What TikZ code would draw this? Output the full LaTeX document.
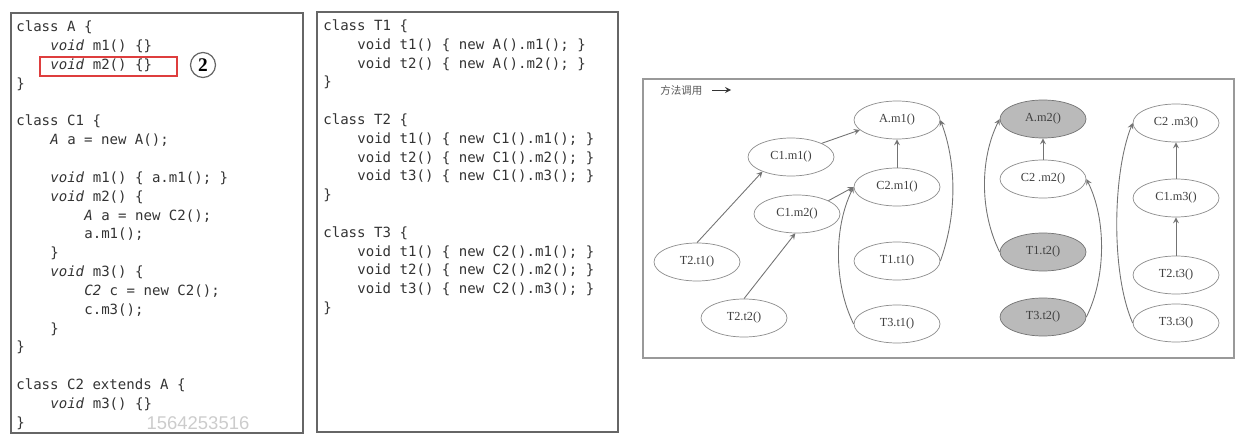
\documentclass[tikz,border=0pt]{standalone}
\usepackage{fontspec}
\setmainfont{Liberation Serif}
\newfontfamily\codefont{DejaVu Sans Mono}
\newfontfamily\cjkfont{Noto Sans CJK SC}
\newfontfamily\stampfont{Liberation Sans}
\usetikzlibrary{shapes.geometric}
\definecolor{hlred}{RGB}{222,62,62}

\begin{document}
\begin{tikzpicture}[x=0.02cm,y=-0.02cm,
  code/.style={anchor=west,inner sep=0pt,text height=6pt,text depth=2pt,font=\codefont\fontsize{8}{10}\selectfont,text=black!80},
  call/.style={ellipse,draw=black!45,fill=white,minimum width=1.72cm,minimum height=0.76cm,inner sep=0pt,font=\fontsize{7}{8}\selectfont,text=black!75},
  hit/.style={call,fill=black!27,draw=black!55},
  link/.style={draw=black!55,line width=0.5pt,-stealth}]
\useasboundingbox (0,0) rectangle (1243,442);
\draw[black!60,line width=0.8pt] (11,13) rectangle (303,433);
\draw[black!60,line width=0.8pt] (317,12) rectangle (618,432);
\draw[black!40,line width=0.8pt] (643,79) rectangle (1234,358);
\foreach \k/\x/\t in {0/16/{class A \{},1/50/{\textit{void} m1() \{\}},2/50/{\textit{void} m2() \{\}},3/16/{\}},
  5/16/{class C1 \{},6/50/{\textit{A} a = new A();},8/50/{\textit{void} m1() \{ a.m1(); \}},
  9/50/{\textit{void} m2() \{},10/84/{\textit{A} a = new C2();},11/84/{a.m1();},12/50/{\}},
  13/50/{\textit{void} m3() \{},14/84/{\textit{C2} c = new C2();},15/84/{c.m3();},16/50/{\}},17/16/{\}},
  19/16/{class C2 extends A \{},20/50/{\textit{void} m3() \{\}},21/16/{\}}}{
  \node[code] (l\k) at (\x,{28+18.85*\k}) {\t};
}
\foreach \k/\x/\t in {0/323/{class T1 \{},1/357/{void t1() \{ new A().m1(); \}},2/357/{void t2() \{ new A().m2(); \}},3/323/{\}},
  5/323/{class T2 \{},6/357/{void t1() \{ new C1().m1(); \}},7/357/{void t2() \{ new C1().m2(); \}},8/357/{void t3() \{ new C1().m3(); \}},9/323/{\}},
  11/323/{class T3 \{},12/357/{void t1() \{ new C2().m1(); \}},13/357/{void t2() \{ new C2().m2(); \}},14/357/{void t3() \{ new C2().m3(); \}},15/323/{\}}}{
  \node[code] (m\k) at (\x,{27+18.8*\k}) {\t};
}
\draw[hlred,line width=0.9pt] (40,57) rectangle (177,76);
\node[circle,draw=black!60,line width=0.7pt,minimum size=0.5cm,inner sep=0pt,font=\fontsize{11}{12}\selectfont\bfseries] (mark) at (203,65) {2};
\node[font=\stampfont\fontsize{10.5}{12}\selectfont,text=black!20] (stamp) at (198,423) {1564253516};
\node[anchor=west,inner sep=0pt,font=\cjkfont\fontsize{6}{7}\selectfont,text=black!65] (legend) at (660,90) {方法调用};
\coordinate (legfrom) at (712,90);
\coordinate (legto) at (731,90);
\draw[link,draw=black!80] (legfrom) -- (legto);
\foreach \n/\x/\y/\t in {Am1/897/120/A.m1(),C1m1/791/157/C1.m1(),C2m1/897/187/C2.m1(),C1m2/797/214/C1.m2(),
  T2t1/697/262/T2.t1(),T1t1/897/261/T1.t1(),T2t2/744/318/T2.t2(),T3t1/897/324/T3.t1(),
  C2m2/1043/179/C2 .m2(),C2m3/1176/123/C2 .m3(),C1m3/1176/198/C1.m3(),T2t3/1176/275/T2.t3(),T3t3/1176/323/T3.t3()}{
  \node[call] (\n) at (\x,\y) {\t};
}
\foreach \n/\x/\y/\t in {Am2/1043/119/A.m2(),T1t2/1043/252/T1.t2(),T3t2/1043/317/T3.t2()}{
  \node[hit] (\n) at (\x,\y) {\t};
}
\draw[link] (C1m1.24) -- (Am1.195);
\draw[link] (C2m1) -- (Am1);
\draw[link] (T2t1.north) -- (C1m1.207);
\draw[link] (C1m2.23) -- (C2m1.west);
\draw[link] (T2t2.north) -- (C1m2.265);
\draw[link] (T1t1.east) .. controls +(18,-50) and +(15,40) .. (Am1.east);
\draw[link] (T3t1.west) .. controls +(-20,-40) and +(-20,40) .. (C2m1.west);
\draw[link] (C2m2) -- (Am2);
\draw[link] (T1t2.west) .. controls +(-20,-40) and +(-20,40) .. (Am2.west);
\draw[link] (T3t2.east) .. controls +(20,-40) and +(20,40) .. (C2m2.east);
\draw[link] (C1m3) -- (C2m3);
\draw[link] (T2t3) -- (C1m3);
\draw[link] (T3t3.west) .. controls +(-22,-50) and +(-20,50) .. (C2m3.west);
\end{tikzpicture}
\end{document}
